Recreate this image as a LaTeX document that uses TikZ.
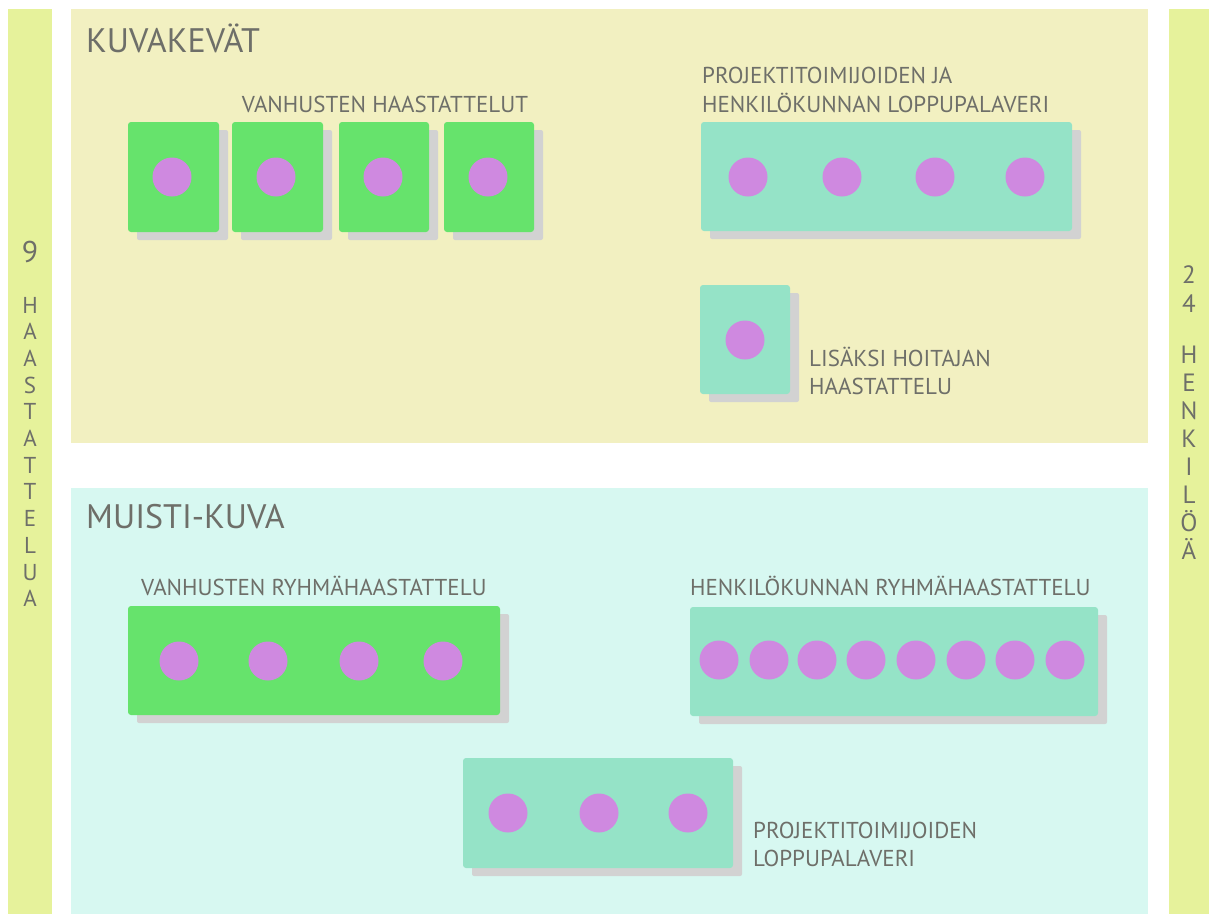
\documentclass[tikz,border=0pt]{standalone}
\usepackage{fontspec}
\setmainfont{PT Sans}
\definecolor{bgtop}{HTML}{F2F0C1}
\definecolor{bgbot}{HTML}{D7F8F1}
\definecolor{sidebar}{HTML}{E6F29B}
\definecolor{boxgreen}{HTML}{66E36C}
\definecolor{boxmint}{HTML}{95E3C7}
\definecolor{dotpurple}{HTML}{CF89E0}
\definecolor{shadowgrey}{HTML}{D2D2D2}
\definecolor{textgrey}{HTML}{6E6F69}
\tikzset{
  panel/.style={inner sep=0, outer sep=0},
  shadowbox/.style={fill=shadowgrey, rounded corners=2pt},
  cardgreen/.style={fill=boxgreen, rounded corners=3pt, inner sep=0, outer sep=0, anchor=north west},
  cardmint/.style={fill=boxmint, rounded corners=3pt, inner sep=0, outer sep=0, anchor=north west},
  dot/.style={circle, fill=dotpurple, minimum size=39pt, inner sep=0},
  title/.style={text=textgrey, font=\fontsize{34}{40}\selectfont, inner sep=0, anchor=base west},
  lbl/.style={text=textgrey, font=\fontsize{23}{28}\selectfont, inner sep=0, anchor=base west},
  sideleft/.style={text=textgrey, font=\fontsize{23}{28}\selectfont, inner sep=0, anchor=base},
  sideright/.style={text=textgrey, font=\fontsize{25}{30}\selectfont, inner sep=0, anchor=base},
}
\newcommand{\cardat}[7]{%
  % #1 name, #2 style, #3 x1, #4 y1, #5 width, #6 height
  \path[shadowbox] (#3+9,#4+8) rectangle (#3+#5+9,#4+#6+8);
  \node[#2, minimum width=#5pt, minimum height=#6pt] (#1) at (#3,#4) {};
}
\begin{document}
\begin{tikzpicture}[x=1pt,y=-1pt]
\useasboundingbox (0,0) rectangle (1209,914);
\fill[white] (0,0) rectangle (1209,914);
% side bars and panels
\fill[sidebar] (8,9) rectangle (52,914);
\fill[sidebar] (1169,9) rectangle (1209,914);
\fill[bgtop] (71,9) rectangle (1148,443);
\fill[bgbot] (71,488) rectangle (1148,914);

% titles
\node[title] (t1) at (86,52) {KUVAKEVÄT};
\node[title] (t2) at (86,528) {MUISTI-KUVA};

% top-left: four single interviews
\node[lbl, anchor=base] (l1) at (385,112) {VANHUSTEN HAASTATTELUT};
\cardat{g1}{cardgreen}{128}{122}{91}{110}{}
\cardat{g2}{cardgreen}{232}{122}{91}{110}{}
\cardat{g3}{cardgreen}{339}{122}{90}{110}{}
\cardat{g4}{cardgreen}{444}{122}{90}{110}{}
\node[dot] (d1) at (172,177) {};
\node[dot] (d2) at (276,177) {};
\node[dot] (d3) at (383,177) {};
\node[dot] (d4) at (488,177) {};

% top-right
\node[lbl] (l2a) at (702,83) {PROJEKTITOIMIJOIDEN JA};
\node[lbl] (l2b) at (702,112) {HENKILÖKUNNAN LOPPUPALAVERI};
\cardat{m1}{cardmint}{701}{122}{371}{109}{}
\node[dot] (d5) at (748,177) {};
\node[dot] (d6) at (842,177) {};
\node[dot] (d7) at (935,177) {};
\node[dot] (d8) at (1025,177) {};

% small box
\cardat{m2}{cardmint}{700}{285}{90}{109}{}
\node[dot] (d9) at (745,340) {};
\node[lbl] (l3a) at (809,366) {LISÄKSI HOITAJAN};
\node[lbl] (l3b) at (809,394) {HAASTATTELU};

% bottom-left
\node[lbl] (l4) at (141,595) {VANHUSTEN RYHMÄHAASTATTELU};
\cardat{g5}{cardgreen}{128}{606}{372}{109}{}
\node[dot] (d10) at (179,661) {};
\node[dot] (d11) at (268,661) {};
\node[dot] (d12) at (359,661) {};
\node[dot] (d13) at (443,661) {};

% bottom-right
\node[lbl] (l5) at (690,595) {HENKILÖKUNNAN RYHMÄHAASTATTELU};
\cardat{m3}{cardmint}{690}{607}{408}{109}{}
\foreach \cx [count=\i] in {719,769,817,866,916,966,1015,1065}
  \node[dot] (e\i) at (\cx,660) {};

% bottom-center
\cardat{m4}{cardmint}{463}{758}{270}{110}{}
\node[dot] (d14) at (508,813) {};
\node[dot] (d15) at (599,813) {};
\node[dot] (d16) at (688,813) {};
\node[lbl] (l6a) at (753,838) {PROJEKTITOIMIJOIDEN};
\node[lbl] (l6b) at (753,866) {LOPPUPALAVERI};

% left side text
\node[sideleft, font=\fontsize{30}{36}\selectfont] (n9) at (30,262) {9};
\foreach \ch [count=\i from 0] in {H,A,A,S,T,A,T,T,E,L,U,A}
  \node[sideleft] (sl\i) at (30,313+26.7*\i) {\ch};

% right side text
\node[sideright] (n2) at (1189,283) {2};
\node[sideright] (n4) at (1189,312) {4};
\foreach \ch [count=\i from 0] in {H,E,N,K,I,L,Ö,Ä}
  \node[sideright] (sr\i) at (1189,363+28*\i) {\ch};
\end{tikzpicture}
\end{document}
